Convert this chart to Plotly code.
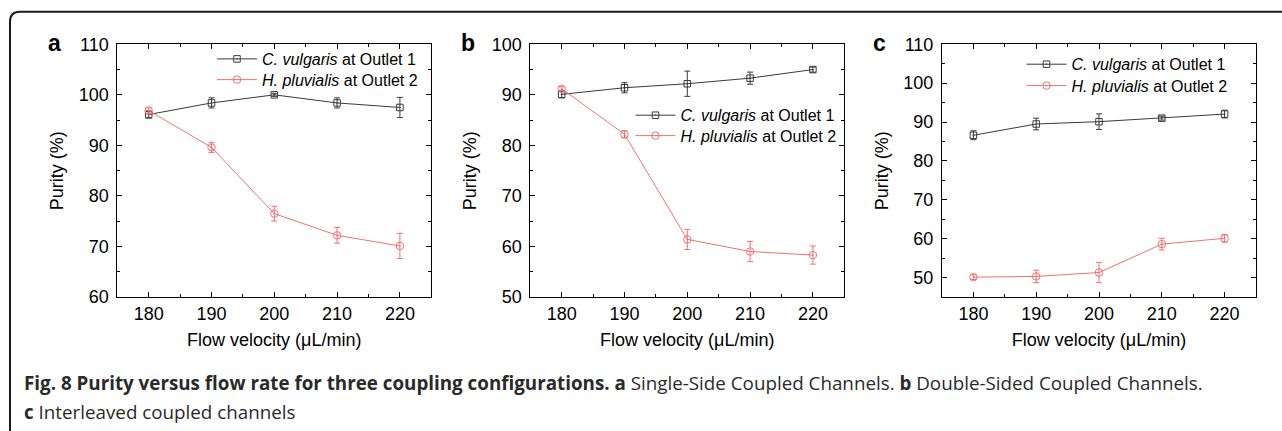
import plotly.graph_objects as go

W, H = 1282, 431

flow = [180, 190, 200, 210, 220]
x_ticks = [180, 190, 200, 210, 220]

a_cv = [96.1, 98.4, 100.0, 98.4, 97.5]
a_cv_err = [0.7, 1.0, 0.3, 1.0, 2.0]
a_hp = [96.9, 89.6, 76.5, 72.2, 70.1]
a_hp_err = [0.5, 1.0, 1.45, 1.55, 2.5]

b_cv = [90.1, 91.4, 92.2, 93.3, 95.0]
b_cv_err = [0.7, 1.0, 2.5, 1.2, 0.5]
b_hp = [91.2, 82.2, 61.4, 59.0, 58.3]
b_hp_err = [0.4, 0.7, 2.0, 2.0, 1.8]

c_cv = [86.6, 89.5, 90.1, 91.0, 92.05]
c_cv_err = [1.15, 1.5, 2.0, 0.5, 1.0]
c_hp = [50.1, 50.3, 51.3, 58.6, 60.1]
c_hp_err = [0.6, 1.6, 2.6, 1.5, 1.0]

y_ranges = [[60, 110], [50, 100], [45, 110]]
panel_labels = ["a", "b", "c"]
cv_name = "<i>C. vulgaris</i> at Outlet 1"
hp_name = "<i>H. pluvialis</i> at Outlet 2"
x_title = "Flow velocity (μL/min)"
y_title = "Purity (%)"
caption1 = ("<b>Fig. 8 Purity versus flow rate for three coupling configurations.</b> "
            "<b>a</b> Single-Side Coupled Channels. <b>b</b> Double-Sided Coupled Channels.")
caption2 = "<b>c</b> Interleaved coupled channels"

BLACK = "#3a3a3a"
RED = "#F07272"
FONT = "Liberation Sans, Arial, sans-serif"
CAP_FONT = "Open Sans, sans-serif"

# pixel geometry
plot_left = [117.3, 530.3, 942.0]
plot_w = 314.0
plot_top, plot_bot = 44.3, 297.0
legend_x = [212.0, 630.5, 1021.5]
legend_rows = [(59.0, 79.7), (115.3, 135.7), (64.3, 85.7)]
letter_x = [54.5, 468.0, 879.5]

def px(x):
    return x / W

def py(y):
    return 1 - y / H

fig = go.Figure()
series = [(a_cv, a_cv_err, a_hp, a_hp_err), (b_cv, b_cv_err, b_hp, b_hp_err),
          (c_cv, c_cv_err, c_hp, c_hp_err)]

for i, (cv, cve, hp, hpe) in enumerate(series):
    sfx = "" if i == 0 else str(i + 1)
    leg1 = "legend" if i == 0 else "legend" + str(2 * i + 1)
    leg2 = "legend" + str(2 * i + 2)
    fig.add_trace(go.Scatter(
        x=flow, y=cv, name=cv_name, mode="lines+markers",
        xaxis="x" + sfx, yaxis="y" + sfx, legend=leg1,
        line=dict(color=BLACK, width=1),
        marker=dict(symbol="square-open-dot", size=6.5, color=BLACK, line=dict(width=1, color=BLACK)),
        error_y=dict(type="data", array=cve, visible=True, color=BLACK, thickness=1, width=3),
    ))
    fig.add_trace(go.Scatter(
        x=flow, y=hp, name=hp_name, mode="lines+markers",
        xaxis="x" + sfx, yaxis="y" + sfx, legend=leg2,
        line=dict(color=RED, width=1),
        marker=dict(symbol="circle-open-dot", size=7.5, color=RED, line=dict(width=1, color=RED)),
        error_y=dict(type="data", array=hpe, visible=True, color=RED, thickness=1, width=3),
    ))

layout = dict(
    width=W, height=H,
    margin=dict(l=0, r=0, t=0, b=0, autoexpand=False),
    paper_bgcolor="white", plot_bgcolor="white",
    font=dict(family=FONT, size=18, color="black"),
    showlegend=True,
)

for i in range(3):
    sfx = "" if i == 0 else str(i + 1)
    xd = [px(plot_left[i]), px(plot_left[i] + plot_w)]
    yd = [py(plot_bot), py(plot_top)]
    common = dict(showline=True, linecolor="black", linewidth=1, mirror="allticks",
                  ticks="inside", ticklen=5, tickwidth=1, tickcolor="black",
                  showgrid=False, zeroline=False, automargin=False,
                  tickfont=dict(family=FONT, size=18, color="black"),
                  minor=dict(ticks="inside", ticklen=3, tickwidth=1, tickcolor="black", dtick=5))
    layout["xaxis" + sfx] = dict(domain=xd, range=[175, 225], tickvals=x_ticks,
                                 anchor="y" + sfx, ticklabelstandoff=0,
                                 title=dict(text=x_title, standoff=10, font=dict(size=18)),
                                 **common)
    layout["yaxis" + sfx] = dict(domain=yd, range=y_ranges[i], dtick=10, tick0=0,
                                 anchor="x" + sfx, ticklabelstandoff=4,
                                 title=dict(text=y_title, standoff=10, font=dict(size=18)),
                                 **common)
    for j in range(2):
        k = 2 * i + j + 1
        name = "legend" if k == 1 else "legend" + str(k)
        layout[name] = dict(
            x=px(legend_x[i]), y=py(legend_rows[i][j] - 17), xanchor="left", yanchor="top",
            xref="paper", yref="paper",
            bgcolor="rgba(0,0,0,0)", borderwidth=0, itemwidth=40,
            font=dict(family=FONT, size=16, color="black"))

fig.update_layout(**layout)

annotations = []
for i in range(3):
    annotations.append(dict(text="<b>%s</b>" % panel_labels[i], x=px(letter_x[i]), y=py(43),
                            xref="paper", yref="paper", showarrow=False,
                            xanchor="center", yanchor="middle",
                            font=dict(family=FONT, size=23, color="black")))
annotations.append(dict(text=caption1, x=px(22), y=py(383), xref="paper", yref="paper",
                        showarrow=False, xanchor="left", yanchor="middle",
                        font=dict(family=CAP_FONT, size=18.8, color="#2a2a2a")))
annotations.append(dict(text=caption2, x=px(22), y=py(412), xref="paper", yref="paper",
                        showarrow=False, xanchor="left", yanchor="middle",
                        font=dict(family=CAP_FONT, size=18.8, color="#2a2a2a")))
fig.update_layout(annotations=annotations)

# rounded figure frame (left and top edges)
r = 10
x0, y0 = px(10), py(11.7)
path = ("M %f,%f L %f,%f Q %f,%f %f,%f L %f,%f" %
        (x0, -0.2, x0, py(11.7 + r), x0, y0, px(10 + r), y0, 1.2, y0))
fig.add_shape(type="path", path=path, xref="paper", yref="paper",
              line=dict(color="#1a1a1a", width=2))

fig.write_html("out.html", config={"displayModeBar": False},
               post_script="document.body.style.margin='0';")
